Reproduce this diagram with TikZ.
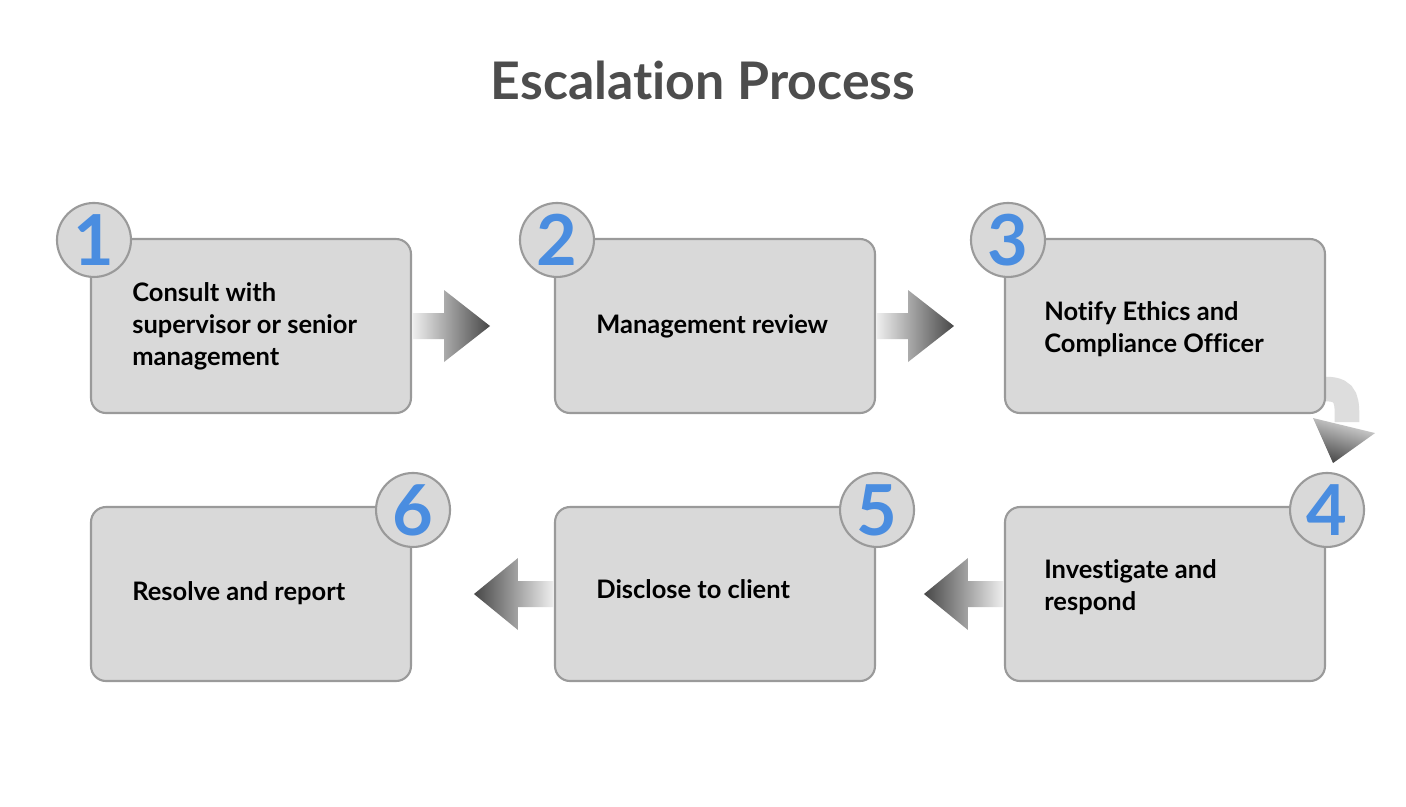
\documentclass[tikz,border=0pt]{standalone}
\usepackage{fontspec}
\setmainfont{Lato}[Ligatures={NoCommon}]
\usetikzlibrary{positioning,calc,backgrounds}
\definecolor{boxgray}{HTML}{D9D9D9}
\definecolor{edgegray}{HTML}{9A9A9A}
\definecolor{shaftgray}{HTML}{DDDDDD}
\definecolor{numblue}{HTML}{4A8DE0}
\definecolor{titlegray}{HTML}{4D4D4D}
\tikzset{
  stepbox/.style={draw=edgegray, line width=1.2pt, fill=boxgray, rounded corners=8.5pt,
    minimum width=6.4cm, minimum height=3.48cm},
  steptext/.style={inner sep=0pt, align=left, font=\bfseries\fontsize{14.5}{18.2}\selectfont},
  numcircle/.style={circle, draw=edgegray, line width=1.2pt, fill=boxgray, minimum size=1.48cm,
    inner sep=0pt, text=numblue, font=\bfseries\fontsize{40}{40}\selectfont},
  fwdarrow/.style={left color=gray!12, right color=black!72},
  backarrow/.style={left color=black!72, right color=gray!12},
  titletext/.style={text=titlegray, font=\bfseries\fontsize{29.5}{30}\selectfont}
}
\begin{document}
\begin{tikzpicture}[x=0.02cm, y=-0.02cm]
\useasboundingbox (0,0) rectangle (1406,806);

\node[titletext] (title) at (703,80) {Escalation Process};

% top row
\node[stepbox] (box1) at (251,326) {};
\node[stepbox] (box2) at (715,326) {};
\node[stepbox] (box3) at (1165,326) {};
% bottom row
\node[stepbox] (box4) at (1165,594) {};
\node[stepbox] (box5) at (715,594) {};
\node[stepbox] (box6) at (251,594) {};

\node[steptext, right=0.84cm of box1.west, yshift=0cm] (text1) {Consult with\\supervisor or senior\\management};
\node[steptext, right=0.84cm of box2.west, yshift=0cm] (text2) {Management review};
\node[steptext, right=0.8cm of box3.west, yshift=-0.06cm] (text3) {Notify Ethics and\\Compliance Officer};
\node[steptext, right=0.8cm of box4.west, yshift=0.14cm] (text4) {Investigate and\\respond};
\node[steptext, right=0.84cm of box5.west, yshift=0.1cm] (text5) {Disclose to client};
\node[steptext, right=0.84cm of box6.west, yshift=0.02cm] (text6) {Resolve and report};

% curved shaft from 3 to 4
\begin{scope}[on background layer]
\fill[white] (0,0) rectangle (1406,806);
\draw[shaftgray, line width=14pt] ($(box3.south east)+(-20,-25)$) -- ($(box3.south east)+(0,-25)$)
  .. controls ($(box3.south east)+(22,-25)$) and ($(box3.south east)+(21,-12)$) .. ($(box3.south east)+(21,8)$);
\end{scope}
\shade[top color=gray!25, bottom color=black!72, shading angle=-16]
  ($(box3.south east)+(-13,4)$) -- ($(box3.south east)+(49,19)$) -- ($(box3.south east)+(7,49)$) -- cycle;

% straight arrows
\shade[fwdarrow] (box1.east) ++(0,-13) -- ++(32,0) -- ++(0,-23) -- ++(46,36) -- ++(-46,36) -- ++(0,-23) -- ++(-32,0) -- cycle;
\shade[fwdarrow] (box2.east) ++(0,-13) -- ++(32,0) -- ++(0,-23) -- ++(46,36) -- ++(-46,36) -- ++(0,-23) -- ++(-32,0) -- cycle;
\shade[backarrow] (box4.west) ++(0,-13) -- ++(-36,0) -- ++(0,-23) -- ++(-44,36) -- ++(44,36) -- ++(0,-23) -- ++(36,0) -- cycle;
\shade[backarrow] (box5.west) ++(0,-13) -- ++(-36,0) -- ++(0,-23) -- ++(-44,36) -- ++(44,36) -- ++(0,-23) -- ++(36,0) -- cycle;

% numbers
\node[numcircle] (num1) at ($(box1.north west)+(4,2)$) {1};
\node[numcircle] (num2) at ($(box2.north west)+(3,2)$) {2};
\node[numcircle] (num3) at ($(box3.north west)+(4,2)$) {3};
\node[numcircle] (num4) at ($(box4.north east)+(1,4)$) {4};
\node[numcircle] (num5) at ($(box5.north east)+(1,4)$) {5};
\node[numcircle] (num6) at ($(box6.north east)+(1,4)$) {6};
\end{tikzpicture}
\end{document}
